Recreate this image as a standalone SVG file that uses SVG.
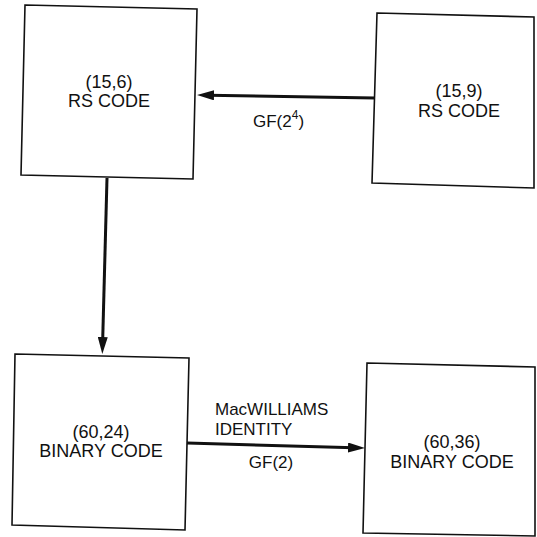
<svg xmlns="http://www.w3.org/2000/svg" width="537" height="537" viewBox="0 0 537 537">
<style>
.box{fill:#fff;stroke:#111;stroke-width:1.6;stroke-linejoin:miter}
.t{font-family:"Liberation Sans",Arial,sans-serif;font-size:18px;fill:#111;text-anchor:middle}
.l{font-family:"Liberation Sans",Arial,sans-serif;font-size:17px;fill:#111}
.c{stroke:#111;stroke-width:3;fill:none;marker-end:url(#ah)}
</style>
<defs>
<marker id="ah" markerUnits="userSpaceOnUse" markerWidth="18" markerHeight="10" refX="6" refY="5" orient="auto" viewBox="0 0 18 10">
<path d="M0,0 L17,5 L0,10 z" fill="#111"/>
</marker>
</defs>
<rect width="537" height="537" fill="#fff"/>
<g id="rs156">
<polygon class="box" points="25,5 197,9 193,179 21,175"/>
<text class="t" x="109" y="88">(15,6)</text>
<text class="t" x="109" y="107">RS CODE</text>
</g>
<g id="rs159">
<polygon class="box" points="377,13 534,17 534,188 372,183"/>
<text class="t" x="459" y="97">(15,9)</text>
<text class="t" x="459" y="117">RS CODE</text>
</g>
<g id="bin6024">
<polygon class="box" points="15,354 189,358 185,530 12,525"/>
<text class="t" x="101" y="438">(60,24)</text>
<text class="t" x="101" y="457">BINARY CODE</text>
</g>
<g id="bin6036">
<polygon class="box" points="367,363 535,367 535,536 363,533"/>
<text class="t" x="452" y="448">(60,36)</text>
<text class="t" x="452" y="468">BINARY CODE</text>
</g>
<g id="connectors">
<line class="c" x1="375" y1="98" x2="208" y2="95.2"/>
<text class="l" x="253" y="127">GF(2<tspan dy="-8" font-size="12">4</tspan><tspan dy="8">)</tspan></text>
<line class="c" x1="107" y1="178" x2="102.6" y2="343"/>
<line class="c" x1="187" y1="443" x2="354" y2="447.7"/>
<text class="l" x="215" y="415">MacWILLIAMS</text>
<text class="l" x="215" y="435">IDENTITY</text>
<text class="l" x="271" y="468" text-anchor="middle">GF(2)</text>
</g>
</svg>
